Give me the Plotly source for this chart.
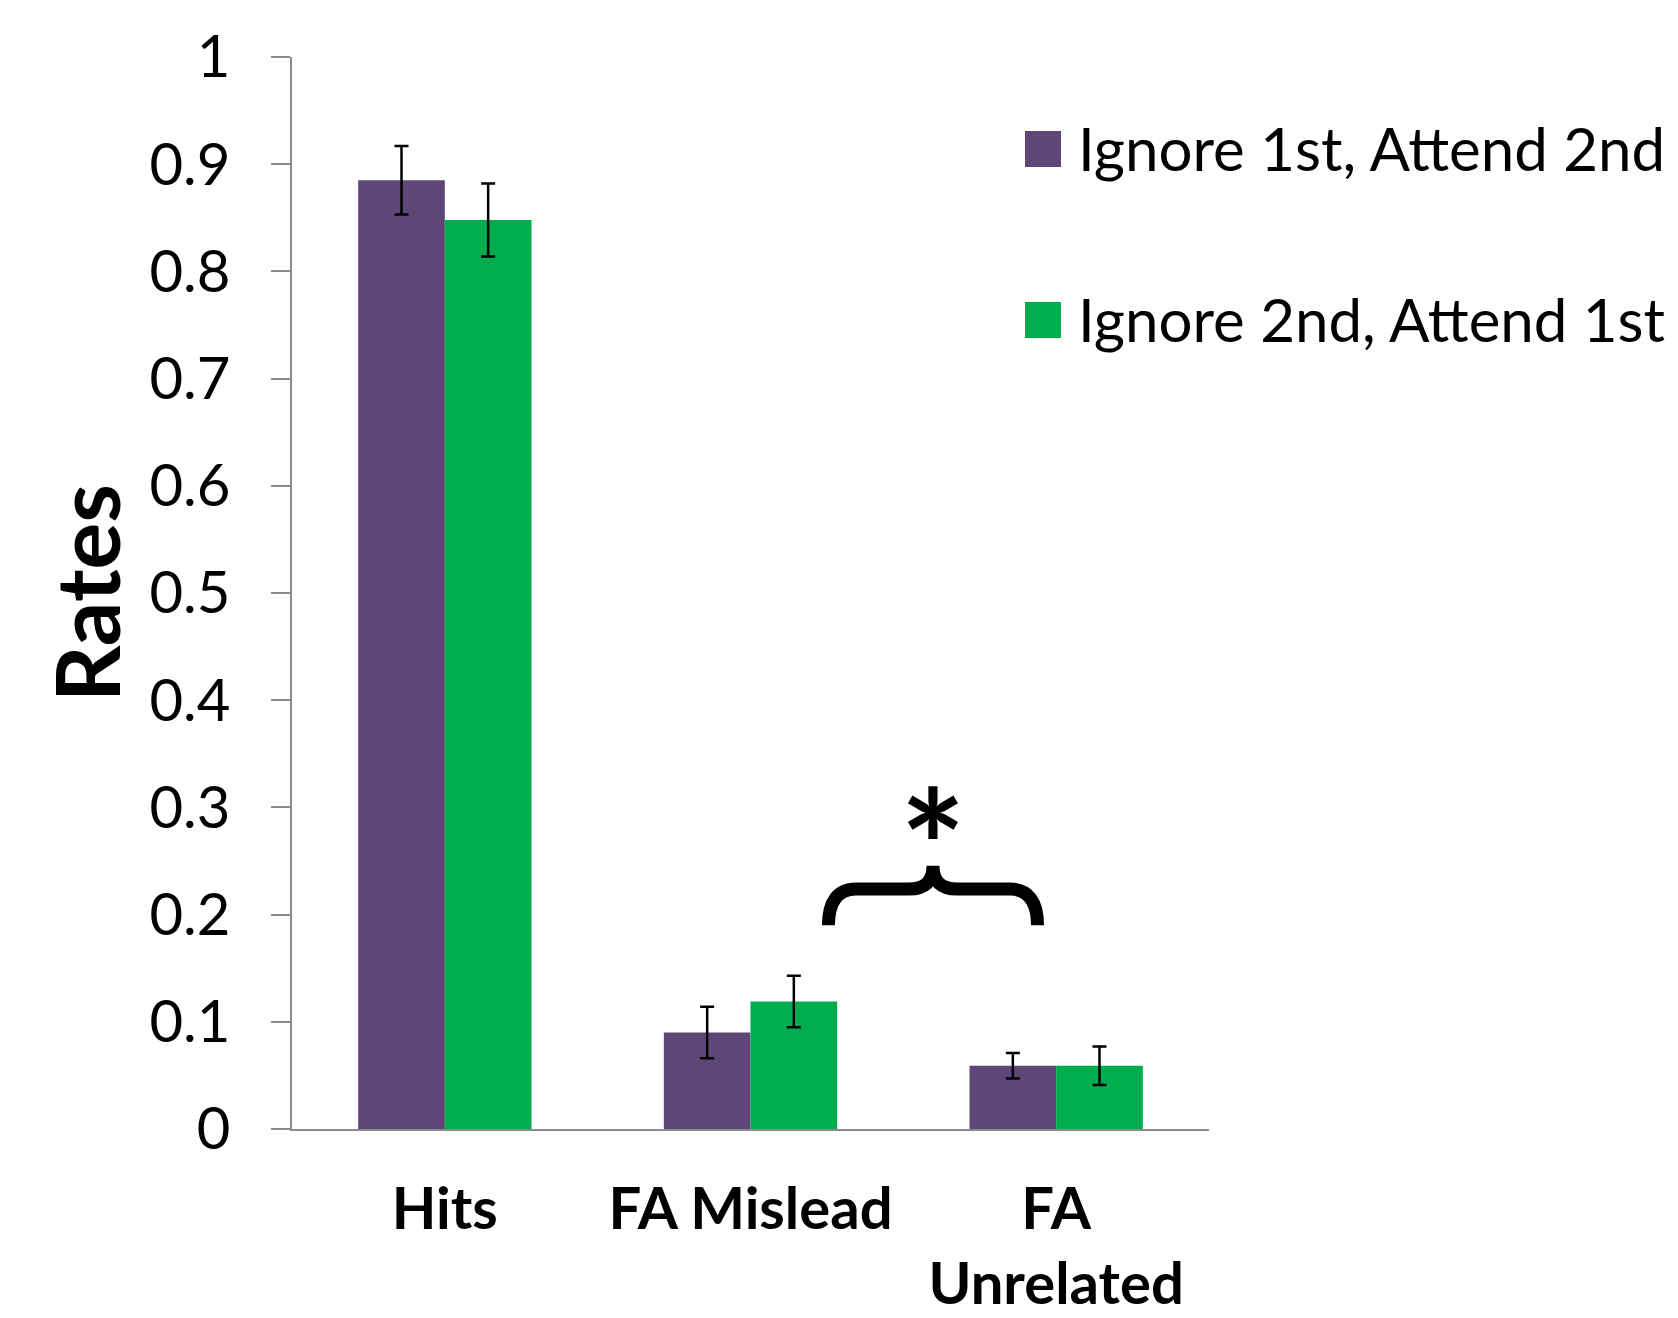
import plotly.graph_objects as go

# ---- data ----
categories = ["Hits", "FA Mislead", "FA<br>Unrelated"]
series_names = ["Ignore 1st, Attend 2nd", "Ignore 2nd, Attend 1st"]
ignore1_vals = [0.885, 0.090, 0.059]
ignore1_err = [0.032, 0.024, 0.012]
ignore2_vals = [0.848, 0.119, 0.059]
ignore2_err = [0.034, 0.024, 0.018]
ytick_vals = [0, 0.1, 0.2, 0.3, 0.4, 0.5, 0.6, 0.7, 0.8, 0.9, 1]
ytick_text = ["0", "0.1", "0.2", "0.3", "0.4", "0.5", "0.6", "0.7", "0.8", "0.9", "1"]

colors = ["#5E4777", "#00AD4E"]
FONT = "Lato"

fig = go.Figure()
for name, vals, errs, col in [
    (series_names[0], ignore1_vals, ignore1_err, colors[0]),
    (series_names[1], ignore2_vals, ignore2_err, colors[1]),
]:
    fig.add_trace(go.Bar(
        x=categories, y=vals, name=name, marker_color=col,
        marker_line_width=0, showlegend=False,
        error_y=dict(type="data", array=errs, color="black", thickness=2.5, width=7),
    ))

# page body has an 8px margin, so the figure is 8px smaller than the window
W, H = 1670, 1310
PW, PH = 917, 1072
L, T = 284, 49
R, B = W - L - PW, H - T - PH

fig.update_layout(
    width=W, height=H,
    margin=dict(l=L, r=R, t=T, b=B, autoexpand=False),
    paper_bgcolor="white", plot_bgcolor="white",
    barmode="group", bargap=0.433, bargroupgap=0,
    font=dict(family=FONT, color="black"),
)
fig.update_xaxes(
    range=[-0.5, 2.5], showline=True, linecolor="#8c8c8c", linewidth=2,
    ticks="", showgrid=False, zeroline=False, automargin=False,
    tickfont=dict(family=FONT, size=58, color="black", weight="bold"),
    ticklabelstandoff=28,
)
fig.update_yaxes(
    range=[0, 1], tickvals=ytick_vals, ticktext=ytick_text,
    showline=True, linecolor="#8c8c8c", linewidth=2,
    ticks="outside", ticklen=19, tickwidth=2, tickcolor="#8c8c8c",
    showgrid=False, zeroline=False, automargin=False,
    tickfont=dict(family=FONT, size=58, color="black"),
    ticklabelstandoff=29,
    title=dict(text="<b>Rates</b>", font=dict(family=FONT, size=88, color="black"), standoff=0),
)

# ---- manual legend (large swatches); positions in figure pixels ----
def px2paper_x(px):
    return (px - L) / PW

def px2paper_y(py):
    return (T + PH - py) / PH

legend_rows = [(123, 159, 140), (294, 330, 311)]
for (ytop, ybot, ymid), name, col in zip(legend_rows, series_names, colors):
    fig.add_shape(type="rect", xref="paper", yref="paper",
                  x0=px2paper_x(1017), x1=px2paper_x(1053),
                  y0=px2paper_y(ybot), y1=px2paper_y(ytop),
                  fillcolor=col, line=dict(width=0))
    fig.add_annotation(xref="paper", yref="paper", x=px2paper_x(1068), y=px2paper_y(ymid),
                       text=name, showarrow=False, xanchor="left", yanchor="middle",
                       font=dict(family=FONT, size=60, color="black"))

# ---- significance brace (x in category units, y in data units) ----
def cx(x):
    return (x + 0.5) / 3.0

arm, tip, end = 0.2238, 0.2455, 0.190
xl, xc, xr = 1.255, 1.597, 1.939
pts = (
    f"M {cx(xl)},{end} "
    f"C {cx(xl)},{0.212} {cx(xl+0.03)},{arm} {cx(xl+0.09)},{arm} "
    f"L {cx(xc-0.08)},{arm} "
    f"C {cx(xc-0.025)},{arm} {cx(xc)},{0.231} {cx(xc)},{tip} "
    f"C {cx(xc)},{0.231} {cx(xc+0.025)},{arm} {cx(xc+0.08)},{arm} "
    f"L {cx(xr-0.09)},{arm} "
    f"C {cx(xr-0.03)},{arm} {cx(xr)},{0.212} {cx(xr)},{end}"
)
fig.add_shape(type="path", xref="paper", yref="y", path=pts,
              line=dict(color="black", width=13))
fig.add_annotation(xref="paper", yref="y", x=cx(xc), y=0.266, text="<b>*</b>",
                   showarrow=False, xanchor="center", yanchor="middle",
                   font=dict(family=FONT, size=155, color="black"))

fig.write_html("out.html")
